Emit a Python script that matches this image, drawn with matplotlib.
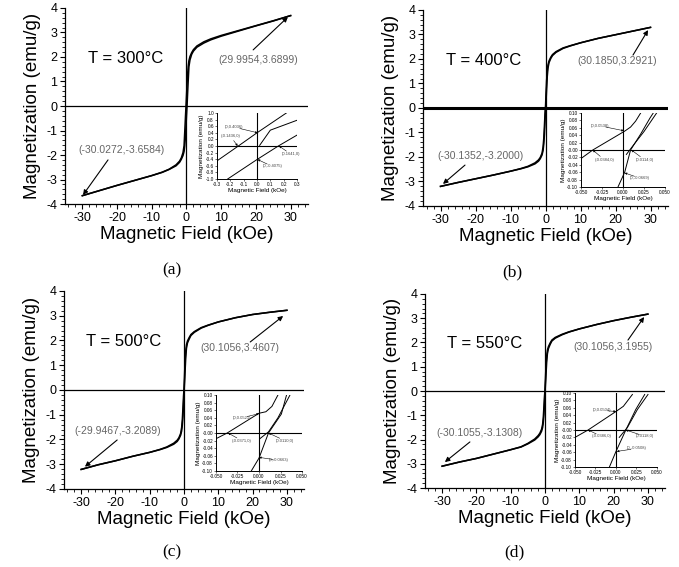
import matplotlib as mpl
import matplotlib.pyplot as plt
from matplotlib.ticker import AutoMinorLocator, MultipleLocator

mpl.rcParams.update({
    "font.family": "sans-serif",
    "font.sans-serif": ["Liberation Sans", "DejaVu Sans"],
    "axes.unicode_minus": False,
    "axes.spines.right": False, "axes.spines.top": False,
})

# main loops: field (kOe) and the two branches (emu/g)
H = [-30, -25, -20, -15, -10, -7, -5, -3, -2, -1.5, -1, -0.7, -0.5, -0.3,
     -0.15, 0, 0.15, 0.3, 0.5, 0.7, 1, 1.5, 2, 3, 5, 7, 10, 15, 20, 25, 30]

M_a_dn = [-3.66, -3.45, -3.24, -3.04, -2.84, -2.70, -2.58, -2.40, -2.25, -2.12, -1.90,
          -1.62, -1.05, -0.45, -0.03, 0.40, 0.85, 1.25, 1.62, 1.85, 2.02, 2.18, 2.30,
          2.45, 2.62, 2.74, 2.88, 3.08, 3.28, 3.48, 3.69]
M_a_up = [-3.66, -3.45, -3.24, -3.04, -2.84, -2.71, -2.59, -2.44, -2.30, -2.18, -2.02,
          -1.86, -1.63, -1.26, -0.86, -0.41, -0.03, 0.44, 1.04, 1.60, 1.88, 2.11, 2.24,
          2.40, 2.57, 2.70, 2.85, 3.06, 3.27, 3.47, 3.69]

M_b_dn = [-3.20, -3.04, -2.89, -2.74, -2.58, -2.47, -2.38, -2.24, -2.12, -2.02, -1.85,
          -1.60, -1.25, -0.70, -0.25, 0.05, 0.60, 1.10, 1.50, 1.75, 1.92, 2.07, 2.18,
          2.30, 2.45, 2.54, 2.66, 2.84, 2.99, 3.14, 3.29]
M_b_up = [-3.20, -3.04, -2.89, -2.74, -2.58, -2.48, -2.40, -2.28, -2.17, -2.07, -1.92,
          -1.74, -1.48, -1.08, -0.58, -0.07, 0.28, 0.72, 1.28, 1.62, 1.85, 2.02, 2.14,
          2.27, 2.43, 2.53, 2.66, 2.84, 2.99, 3.14, 3.29]

M_c_dn = [-3.21, -3.02, -2.86, -2.68, -2.52, -2.40, -2.30, -2.15, -2.03, -1.93, -1.76,
          -1.52, -1.20, -0.68, -0.24, 0.05, 0.62, 1.15, 1.58, 1.82, 1.98, 2.12, 2.24,
          2.36, 2.52, 2.62, 2.75, 2.92, 3.05, 3.14, 3.22]
M_c_up = [-3.21, -3.02, -2.86, -2.68, -2.52, -2.41, -2.32, -2.19, -2.08, -1.98, -1.83,
          -1.66, -1.42, -1.05, -0.56, -0.07, 0.30, 0.76, 1.32, 1.68, 1.90, 2.06, 2.20,
          2.33, 2.50, 2.61, 2.75, 2.92, 3.05, 3.14, 3.22]

M_d_dn = [-3.10, -2.93, -2.78, -2.60, -2.42, -2.30, -2.16, -1.98, -1.84, -1.74, -1.58,
          -1.38, -1.10, -0.62, -0.22, 0.05, 0.58, 1.05, 1.45, 1.68, 1.83, 1.98, 2.10,
          2.21, 2.34, 2.44, 2.56, 2.74, 2.90, 3.04, 3.17]
M_d_up = [-3.10, -2.93, -2.78, -2.60, -2.42, -2.31, -2.18, -2.02, -1.89, -1.80, -1.66,
          -1.51, -1.30, -0.95, -0.50, -0.05, 0.30, 0.70, 1.22, 1.54, 1.75, 1.92, 2.06,
          2.18, 2.32, 2.43, 2.56, 2.74, 2.90, 3.04, 3.17]

temps = ["T = 300\u00b0C", "T = 400\u00b0C", "T = 500\u00b0C", "T = 550\u00b0C"]
end_hi = ["(29.9954,3.6899)", "(30.1850,3.2921)", "(30.1056,3.4607)", "(30.1056,3.1955)"]
end_lo = ["(-30.0272,-3.6584)", "(-30.1352,-3.2000)", "(-29.9467,-3.2089)",
          "(-30.1055,-3.1308)"]
captions = ["(a)", "(b)", "(c)", "(d)"]

# inset curves (zoom around the origin)
ins_a = [([-0.3, -0.14, 0.0, 0.22], [-0.45, 0.0, 0.40, 1.0]),
         ([-0.22, 0.0, 0.16, 0.3], [-1.0, -0.41, 0.0, 0.33]),
         ([0.02, 0.1, 0.3], [0.02, 0.48, 0.78])]
ins_b = [([-0.05, -0.036, 0.002, 0.009, 0.015, 0.021], [-0.023, 0.0, 0.051, 0.062, 0.078, 0.10]),
         ([-0.006, 0.002, 0.009, 0.021, 0.032, 0.036], [-0.10, -0.06, 0.0, 0.043, 0.086, 0.10]),
         ([0.004, 0.012, 0.025, 0.040], [-0.012, 0.012, 0.05, 0.10])]
ins_c = [([-0.05, -0.037, 0.0, 0.008, 0.015, 0.022], [-0.015, 0.0, 0.052, 0.056, 0.07, 0.10]),
         ([-0.009, 0.0, 0.011, 0.026, 0.032], [-0.10, -0.066, 0.0, 0.05, 0.10]),
         ([0.001, 0.011, 0.022, 0.036], [-0.015, 0.003, 0.04, 0.10])]
ins_d = [([-0.05, -0.034, 0.0, 0.009, 0.02], [-0.02, 0.0, 0.05, 0.064, 0.096]),
         ([-0.008, 0.0, 0.012, 0.024, 0.035], [-0.10, -0.058, 0.0, 0.055, 0.096]),
         ([0.004, 0.014, 0.026, 0.039], [-0.02, 0.007, 0.055, 0.096])]

ins_lbl_a = ["(0,0.4036)", "(-0.1436,0)", "(0.1641,0)", "(0,-0.4075)"]
ins_lbl_b = ["(0,0.0538)", "(-0.0384,0)", "(0.0114,0)", "(0,-0.0669)"]
ins_lbl_c = ["(0,0.0521)", "(-0.0371,0)", "(0.0110,0)", "(0,-0.0663)"]
ins_lbl_d = ["(0,0.0504)", "(-0.0386,0)", "(0.0118,0)", "(0,-0.0508)"]

fig = plt.figure(figsize=(6.79, 5.67), dpi=100)

main_rects = [[0.0957, 0.6402, 0.3579, 0.3457], [0.623, 0.6367, 0.3608, 0.3457],
              [0.0943, 0.1376, 0.3535, 0.3492], [0.6259, 0.1393, 0.3535, 0.3422]]
inset_rects = [[0.3196, 0.6843, 0.1178, 0.1164], [0.8557, 0.6702, 0.1237, 0.1305],
               [0.3181, 0.1693, 0.1267, 0.134], [0.8468, 0.1764, 0.1208, 0.1305]]
cap_xy = [(0.253, 0.524), (0.754, 0.520), (0.253, 0.025), (0.758, 0.026)]
hi_txt = [(20.6, 1.88), (20.4, 1.92), (16.3, 1.70), (19.8, 1.81)]
hi_arrow = [((19.2, 2.29), (29.2, 3.63)), ((25.0, 2.16), (29.3, 3.18)),
            ((19.3, 1.94), (28.9, 2.99)), ((24.2, 2.10), (28.9, 3.05))]
lo_txt = [(-18.6, -1.8), (-18.7, -1.96), (-19.25, -1.66), (-19.0, -1.73)]
lo_arrow = [((-22.6, -2.2), (-29.8, -3.63)), ((-23.0, -2.33), (-29.3, -3.1)),
            ((-19.5, -2.02), (-28.9, -3.1)), ((-21.9, -2.1), (-29.2, -2.93))]

loops = [(M_a_dn, M_a_up), (M_b_dn, M_b_up), (M_c_dn, M_c_up), (M_d_dn, M_d_up)]
insets = [ins_a, ins_b, ins_c, ins_d]
ins_lbls = [ins_lbl_a, ins_lbl_b, ins_lbl_c, ins_lbl_d]

for i in range(4):
    ax = fig.add_axes(main_rects[i])
    dn, up = loops[i]
    ax.plot(H, dn, color="k", lw=1.1)
    ax.plot(H, up, color="k", lw=1.1)
    ax.axhline(0, color="k", lw=2.2 if i == 1 else 0.9)
    ax.axvline(0, color="k", lw=0.9)
    ax.set_xlim(-35, 35)
    ax.set_ylim(-4, 4)
    ax.xaxis.set_major_locator(MultipleLocator(10))
    ax.yaxis.set_major_locator(MultipleLocator(1))
    ax.xaxis.set_minor_locator(AutoMinorLocator(5))
    ax.yaxis.set_minor_locator(AutoMinorLocator(5))
    ax.tick_params(which="major", direction="out", length=3.5, width=0.8,
                   labelsize=9, pad=2)
    ax.tick_params(which="minor", direction="out", length=2, width=0.6)
    for s in ("left", "bottom"):
        ax.spines[s].set_linewidth(0.9)
    ax.set_xlabel("Magnetic Field (kOe)", fontsize=13.5, labelpad=2)
    ax.set_ylabel("Magnetization (emu/g)", fontsize=13.5, labelpad=4)
    ax.text(-17.6, 1.95, temps[i], fontsize=12, ha="center", va="center")
    ax.text(*hi_txt[i], end_hi[i], fontsize=7.5, color="#666666",
            ha="center", va="center")
    ax.text(*lo_txt[i], end_lo[i], fontsize=7.5, color="#666666",
            ha="center", va="center")
    for (p0, p1) in (hi_arrow[i], lo_arrow[i]):
        ax.annotate("", xy=p1, xytext=p0,
                    arrowprops=dict(arrowstyle="-|>", color="k", lw=0.8,
                                    mutation_scale=7, shrinkA=0, shrinkB=0))
    fig.text(*cap_xy[i], captions[i], family="Liberation Serif", fontsize=12.5,
             ha="center", va="center")

    # inset
    ia = fig.add_axes(inset_rects[i])
    ia.patch.set_alpha(0)
    for xs, ys in insets[i]:
        ia.plot(xs, ys, color="k", lw=0.7)
    ia.axhline(0, color="k", lw=0.8)
    ia.axvline(0, color="k", lw=0.8)
    if i == 0:
        ia.set_xlim(-0.3, 0.3)
        ia.set_ylim(-1.0, 1.0)
        ia.xaxis.set_major_locator(MultipleLocator(0.1))
        ia.yaxis.set_major_locator(MultipleLocator(0.2))
        ia.xaxis.set_major_formatter("{x:.1f}")
        ia.yaxis.set_major_formatter("{x:.1f}")
        lbl_pos = [(-0.17, 0.57), (-0.2, 0.3), (0.255, -0.25), (0.115, -0.62)]
        lbl_tip = [(0.005, 0.40), (-0.145, 0.0), (0.165, 0.0), (0.005, -0.41)]
    else:
        ia.set_xlim(-0.05, 0.05)
        ia.set_ylim(-0.10, 0.10)
        ia.xaxis.set_major_locator(MultipleLocator(0.025))
        ia.yaxis.set_major_locator(MultipleLocator(0.02))
        ia.xaxis.set_major_formatter("{x:.3f}")
        ia.yaxis.set_major_formatter("{x:.2f}")
        if i == 1:
            lbl_pos = [(-0.027, 0.065), (-0.022, -0.027), (0.026, -0.027), (0.02, -0.076)]
            lbl_tip = [(0.001, 0.052), (-0.036, 0.0), (0.01, 0.0), (0.002, -0.062)]
        elif i == 2:
            lbl_pos = [(-0.02, 0.04), (-0.02, -0.02), (0.03, -0.02), (0.023, -0.072)]
            lbl_tip = [(0.0, 0.051), (-0.036, 0.0), (0.011, 0.0), (0.0, -0.064)]
        else:
            lbl_pos = [(-0.017, 0.053), (-0.018, -0.017), (0.035, -0.017), (0.025, -0.05)]
            lbl_tip = [(0.0, 0.05), (-0.034, 0.0), (0.012, 0.0), (0.001, -0.058)]
    for txt, pos, tip in zip(ins_lbls[i], lbl_pos, lbl_tip):
        ia.text(*pos, txt, fontsize=3, color="#444444", ha="center", va="center")
        ia.annotate("", xy=tip, xytext=pos,
                    arrowprops=dict(arrowstyle="-|>", color="k", lw=0.4,
                                    mutation_scale=3, shrinkA=4, shrinkB=0))
    ia.tick_params(which="major", direction="out", length=1.2, width=0.4,
                   labelsize=3.4, pad=1)
    for s in ("left", "bottom"):
        ia.spines[s].set_linewidth(0.7)
    ia.set_xlabel("Magnetic Field (kOe)", fontsize=4.6, labelpad=1)
    ia.set_ylabel("Magnetization (emu/g)", fontsize=4.6, labelpad=1)

fig.savefig("out.png", dpi=100)
